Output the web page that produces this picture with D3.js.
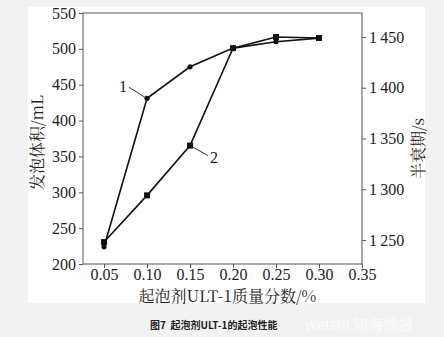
<!DOCTYPE html>
<html>
<head>
<meta charset="utf-8">
<script src="https://cdn.jsdelivr.net/npm/d3@7/dist/d3.min.js"></script>
<style>
  body { margin: 0; background: #f2f2f2; }
  svg { display: block; }
</style>
</head>
<body>
<svg id="chart" width="444" height="337"></svg>
<script>
// data
const concentrations = [0.05, 0.10, 0.15, 0.20, 0.25, 0.30];
const foamVolume = [224, 431, 475, 501, 510, 515];     // curve 1, left axis (mL)
const halfLife = [1248, 1294, 1343, 1439, 1450, 1449]; // curve 2, right axis (s)
const xTicks = [0.05, 0.10, 0.15, 0.20, 0.25, 0.30, 0.35];
const leftTicks = [200, 250, 300, 350, 400, 450, 500, 550];
const rightTicks = [1250, 1300, 1350, 1400, 1450];

const svg = d3.select("#chart");
const serif = "'Liberation Serif', 'Times New Roman', serif";

// white panel
svg.append("rect")
    .attr("x", 28).attr("y", 7)
    .attr("width", 397).attr("height", 296)
    .attr("fill", "#fff");

const plot = { left: 83, right: 362, top: 13, bottom: 264 };

const x = d3.scaleLinear().domain([0.0255, 0.35]).range([plot.left, plot.right]);
const yL = d3.scaleLinear().domain([200, 550]).range([plot.bottom, plot.top]);
const yR = d3.scaleLinear().domain([1226.4, 1473.6]).range([plot.bottom, plot.top]);

const axisColor = "#555";

//frame
svg.append("rect")
    .attr("x", plot.left).attr("y", plot.top)
    .attr("width", plot.right - plot.left).attr("height", plot.bottom - plot.top)
    .attr("fill", "none").attr("stroke", axisColor).attr("stroke-width", 1);

//axes
const fmtR = d => d3.format("d")(d).replace(/^(\d)(\d{3})$/, "$1\u2009$2");

const gx = svg.append("g")
    .attr("transform", `translate(0,${plot.bottom})`)
    .call(d3.axisBottom(x).tickValues(xTicks).tickFormat(d3.format(".2f")).tickSize(4).tickPadding(1));
const gl = svg.append("g")
    .attr("transform", `translate(${plot.left},0)`)
    .call(d3.axisLeft(yL).tickValues(leftTicks).tickSize(4).tickPadding(3));
const gr = svg.append("g")
    .attr("transform", `translate(${plot.right},0)`)
    .call(d3.axisRight(yR).tickValues(rightTicks).tickFormat(fmtR).tickSize(4).tickPadding(3));

[gx, gl, gr].forEach(g => {
    g.select(".domain").remove();
    g.selectAll("line").attr("stroke", axisColor);
    g.selectAll("text").attr("fill", "#222")
        .style("font-family", serif).style("font-size", "16px");
});

//lines
const line1 = d3.line().x((d, i) => x(concentrations[i])).y(d => yL(d));
const line2 = d3.line().x((d, i) => x(concentrations[i])).y(d => yR(d));

svg.append("path").datum(foamVolume)
    .attr("d", line1).attr("fill", "none")
    .attr("stroke", "#111").attr("stroke-width", 1.6);
svg.append("path").datum(halfLife)
    .attr("d", line2).attr("fill", "none")
    .attr("stroke", "#111").attr("stroke-width", 1.6);

svg.selectAll(".m1").data(foamVolume).enter().append("circle")
    .attr("class", "m1")
    .attr("cx", (d, i) => x(concentrations[i]))
    .attr("cy", d => yL(d))
    .attr("r", 2.6).attr("fill", "#111");
svg.selectAll(".m2").data(halfLife).enter().append("rect")
    .attr("class", "m2")
    .attr("x", (d, i) => x(concentrations[i]) - 3)
    .attr("y", d => yR(d) - 3)
    .attr("width", 6).attr("height", 6).attr("fill", "#111");

//curve labels with leaders
const lab1 = { px: x(0.10), py: yL(431) };
svg.append("line")
    .attr("x1", lab1.px - 18).attr("y1", lab1.py - 11)
    .attr("x2", lab1.px - 2).attr("y2", lab1.py - 1)
    .attr("stroke", "#333").attr("stroke-width", 1);
svg.append("text").text("1")
    .attr("x", lab1.px - 20).attr("y", lab1.py - 6)
    .attr("text-anchor", "end")
    .style("font-family", serif).style("font-size", "16px").attr("fill", "#222");

const lab2 = { px: x(0.15), py: yR(1343) };
svg.append("line")
    .attr("x1", lab2.px + 2).attr("y1", lab2.py + 1)
    .attr("x2", lab2.px + 18).attr("y2", lab2.py + 10)
    .attr("stroke", "#333").attr("stroke-width", 1);
svg.append("text").text("2")
    .attr("x", lab2.px + 20).attr("y", lab2.py + 17)
    .style("font-family", serif).style("font-size", "16px").attr("fill", "#222");

//axis titles
svg.append("text").text("起泡剂ULT-1质量分数/%")
    .attr("x", (plot.left + plot.right) / 2 + 5).attr("y", 302)
    .attr("text-anchor", "middle")
    .style("font-family", "'Noto Serif CJK SC', " + serif).style("font-size", "16px").attr("fill", "#222");

svg.append("text").text("发泡体积/mL")
    .attr("transform", `translate(43,${(plot.top + plot.bottom) / 2 + 4}) rotate(-90)`)
    .attr("text-anchor", "middle")
    .style("font-family", "'Noto Serif CJK SC', " + serif).style("font-size", "16px").attr("fill", "#222");

svg.append("text").text("半衰期/s")
    .attr("transform", `translate(424,${(plot.top + plot.bottom) / 2 + 10}) rotate(-90)`)
    .attr("text-anchor", "middle")
    .style("font-family", "'Noto Serif CJK SC', " + serif).style("font-size", "16px").attr("fill", "#222");

//caption
svg.append("text").text("图7\u00a0\u00a0起泡剂ULT-1的起泡性能")
    .attr("x", 150).attr("y", 329)
    .style("font-family", "'Noto Sans CJK SC', sans-serif")
    .style("font-size", "10px").style("font-weight", "bold").attr("fill", "#222");

svg.append("text").text("weizhi 知海情报")
    .attr("x", 305).attr("y", 330)
    .style("font-family", "'Noto Sans CJK SC', sans-serif")
    .style("font-size", "15px").attr("fill", "#fff").attr("opacity", 0.8);
</script>
</body>
</html>
